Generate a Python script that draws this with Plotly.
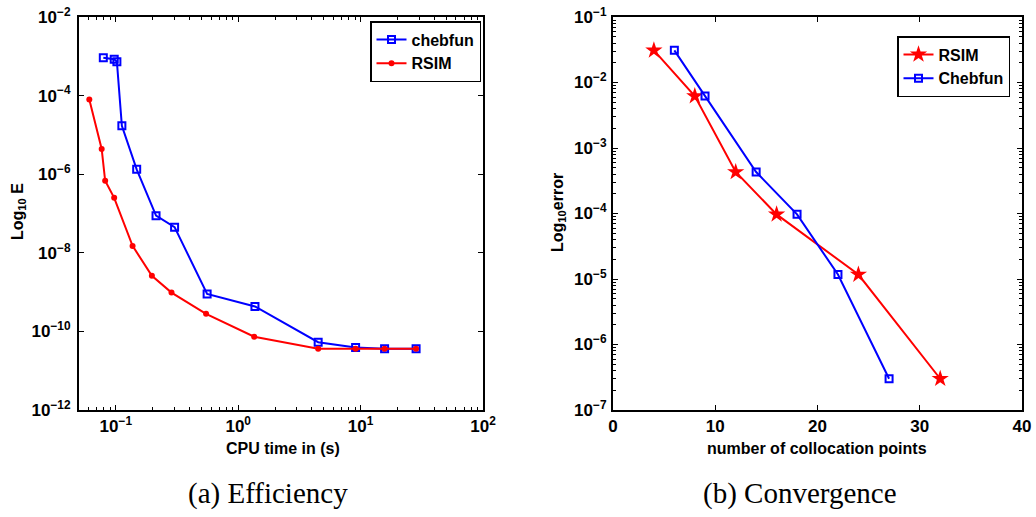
import plotly.graph_objects as go

# (a) Efficiency: CPU time vs. error
cheb_time = [0.079, 0.097, 0.102, 0.112, 0.148, 0.213, 0.302, 0.557, 1.37, 4.5, 9.1, 15.7, 28.4]
cheb_eff_err = [9.2e-4, 8.4e-4, 7.3e-4, 1.7e-5, 1.33e-6, 8.8e-8, 4.5e-8, 9.0e-10, 4.3e-10,
                5.3e-11, 3.9e-11, 3.6e-11, 3.6e-11]
rsim_time = [0.0607, 0.0766, 0.0818, 0.0969, 0.137, 0.197, 0.285, 0.546, 1.35, 4.5, 9.1, 15.7, 28.4]
rsim_eff_err = [8.0e-5, 4.4e-6, 6.8e-7, 2.5e-7, 1.5e-8, 2.6e-9, 9.7e-10, 2.8e-10, 7.3e-11,
                3.6e-11, 3.6e-11, 3.6e-11, 3.6e-11]

# (b) Convergence: collocation points vs. error
rsim_points = [4, 8, 12, 16, 24, 32]
rsim_conv_err = [3.1e-2, 6.2e-3, 4.3e-4, 9.7e-5, 1.17e-5, 3.0e-7]
cheb_points = [6, 9, 14, 18, 22, 27]
cheb_conv_err = [3.1e-2, 6.2e-3, 4.3e-4, 9.7e-5, 1.17e-5, 3.0e-7]

# tick labels
left_y_exps = [-12, -10, -8, -6, -4, -2]
left_x_exps = [-1, 0, 1, 2]
right_y_exps = [-7, -6, -5, -4, -3, -2, -1]
right_x_ticks = [0, 10, 20, 30, 40]

W, H = 1036, 517
BLUE, RED = "#0000ff", "#ff0000"
SANS = "Liberation Sans, Arial, sans-serif"
SERIF = "Liberation Serif, Times New Roman, serif"
tick_font = dict(family=SANS, size=17, color="black", weight="bold")


def px_x(p):
    return p / W


def px_y(p):
    return 1 - p / H


def pow_label(e):
    return "<b>10<sup>%s</sup></b>" % (str(e).replace("-", "\u2212"))


def minor_vals(e0, e1):
    return [k * 10.0 ** e for e in range(e0, e1) for k in range(2, 10)]


fig = go.Figure()

fig.add_trace(go.Scatter(
    x=cheb_time, y=cheb_eff_err, name="chebfun", mode="lines+markers",
    line=dict(color=BLUE, width=2),
    marker=dict(symbol="square-open", size=7, color=BLUE, line=dict(width=2, color=BLUE)),
    xaxis="x", yaxis="y", legend="legend"))
fig.add_trace(go.Scatter(
    x=rsim_time, y=rsim_eff_err, name="RSIM", mode="lines+markers",
    line=dict(color=RED, width=2),
    marker=dict(symbol="circle", size=6, color=RED),
    xaxis="x", yaxis="y", legend="legend"))

fig.add_trace(go.Scatter(
    x=rsim_points, y=rsim_conv_err, name="RSIM", mode="lines+markers",
    line=dict(color=RED, width=2),
    marker=dict(symbol="star", size=13, color=RED),
    xaxis="x2", yaxis="y2", legend="legend2"))
fig.add_trace(go.Scatter(
    x=cheb_points, y=cheb_conv_err, name="Chebfun", mode="lines+markers",
    line=dict(color=BLUE, width=2),
    marker=dict(symbol="square-open", size=7, color=BLUE, line=dict(width=2, color=BLUE)),
    xaxis="x2", yaxis="y2", legend="legend2"))

axis_common = dict(
    showline=True, linecolor="black", linewidth=2, mirror="ticks",
    ticks="inside", ticklen=5, tickwidth=1, tickcolor="black",
    showgrid=False, zeroline=False, tickfont=tick_font, automargin=False,
)
y_dom = [px_y(410), px_y(17)]

fig.update_layout(
    template="none",
    width=W, height=H, margin=dict(l=0, r=0, t=0, b=0, autoexpand=False),
    paper_bgcolor="white", plot_bgcolor="white",
    xaxis=dict(axis_common, domain=[px_x(79), px_x(483)], type="log",
               range=[-1.30103, 2], anchor="y", ticklabelstandoff=0,
               tickmode="array", tickvals=[10.0 ** e for e in left_x_exps],
               ticktext=[pow_label(e) for e in left_x_exps],
               minor=dict(ticks="inside", ticklen=3, tickcolor="black",
                          tickmode="array", tickvals=minor_vals(-2, 2), showgrid=False)),
    yaxis=dict(axis_common, domain=y_dom, type="log", range=[-12, -2], anchor="x",
               ticklabelstandoff=3,
               tickmode="array", tickvals=[10.0 ** e for e in left_y_exps],
               ticktext=[pow_label(e) for e in left_y_exps]),
    xaxis2=dict(axis_common, domain=[px_x(613), px_x(1022)], range=[0, 40], anchor="y2",
                ticklabelstandoff=0,
                tickmode="array", tickvals=right_x_ticks,
                ticktext=["<b>%d</b>" % v for v in right_x_ticks]),
    yaxis2=dict(axis_common, domain=y_dom, type="log", range=[-7, -1], anchor="x2",
                ticklabelstandoff=1,
                tickmode="array", tickvals=[10.0 ** e for e in right_y_exps],
                ticktext=[pow_label(e) for e in right_y_exps],
                minor=dict(ticks="inside", ticklen=3, tickcolor="black",
                           tickmode="array", tickvals=minor_vals(-7, -1), showgrid=False)),
    legend=dict(x=px_x(481), y=px_y(21), xanchor="right", yanchor="top",
                bgcolor="white", bordercolor="black", borderwidth=1.5,
                font=dict(family=SANS, size=16, color="black", weight="bold"),
                tracegroupgap=0, itemwidth=30),
    legend2=dict(x=px_x(1010), y=px_y(36), xanchor="right", yanchor="top",
                 bgcolor="white", bordercolor="black", borderwidth=1.5,
                 font=dict(family=SANS, size=16, color="black", weight="bold"),
                 tracegroupgap=0, itemwidth=30),
    showlegend=True,
)

label_font = dict(family=SANS, size=16, color="black", weight="bold")
annotations = [
    dict(text="<b>Log<sub>10</sub> E</b>", x=px_x(18), y=px_y(212), textangle=-90, font=label_font),
    dict(text="<b>Log<sub>10</sub>error</b>", x=px_x(558), y=px_y(213), textangle=-90, font=label_font),
    dict(text="<b>CPU time in (s)</b>", x=px_x(283), y=px_y(448), font=label_font),
    dict(text="<b>number of collocation points</b>", x=px_x(817), y=px_y(448), font=label_font),
    dict(text="(a) Efficiency", x=px_x(268), y=px_y(493),
         font=dict(family=SERIF, size=29, color="black")),
    dict(text="(b) Convergence", x=px_x(800), y=px_y(493),
         font=dict(family=SERIF, size=29, color="black")),
]
for a in annotations:
    a.update(xref="paper", yref="paper", showarrow=False, xanchor="center", yanchor="middle")
fig.update_layout(annotations=annotations)

fig.write_html("out.html")
